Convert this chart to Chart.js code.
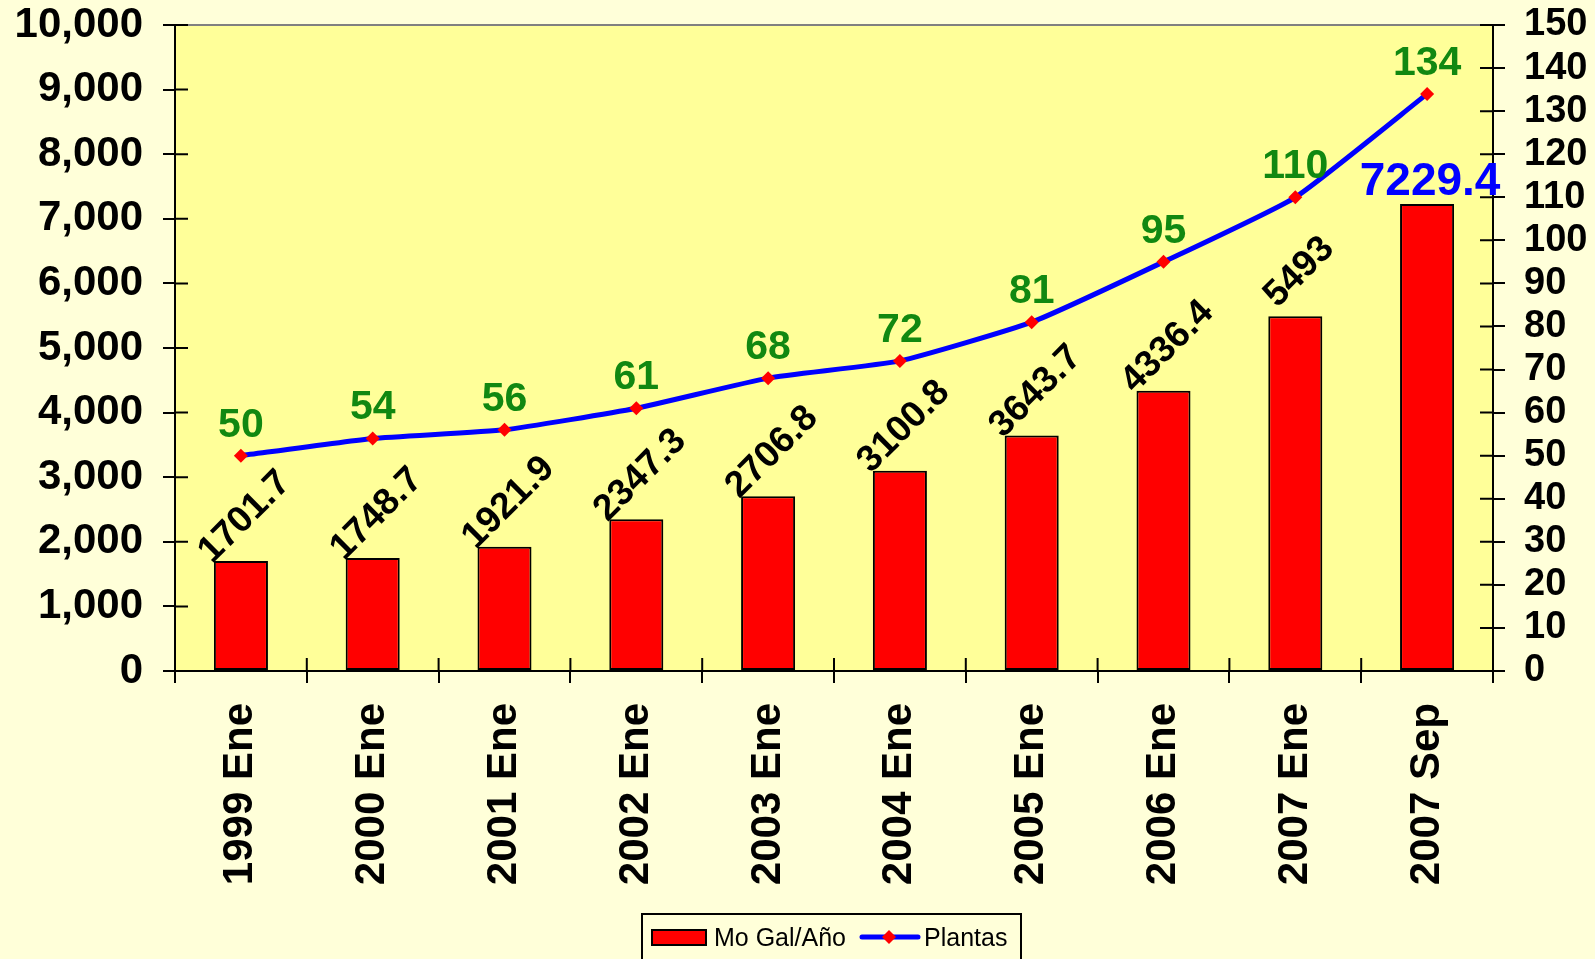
<!DOCTYPE html>
<html>
<head>
<meta charset="utf-8">
<script src="https://cdn.jsdelivr.net/npm/chart.js@4/dist/chart.umd.min.js"></script>
<style>
  html, body { margin: 0; padding: 0; background: #ffffd9; }
  #wrap { width: 1595px; height: 959px; }
</style>
</head>
<body>
<div id="wrap"><canvas id="myChart" width="1595" height="959"></canvas></div>
<script>
'use strict';
// Produccion de etanol y plantas en operacion
const categories = ['1999 Ene', '2000 Ene', '2001 Ene', '2002 Ene', '2003 Ene',
    '2004 Ene', '2005 Ene', '2006 Ene', '2007 Ene', '2007 Sep'];
const galones = [1701.7, 1748.7, 1921.9, 2347.3, 2706.8, 3100.8, 3643.7, 4336.4, 5493, 7229.4];
const plantas = [50, 54, 56, 61, 68, 72, 81, 95, 110, 134];
const galLabels = ['1701.7', '1748.7', '1921.9', '2347.3', '2706.8', '3100.8', '3643.7', '4336.4', '5493', '7229.4'];
const leftTicks = { min: 0, max: 10000, step: 1000 };
const rightTicks = { min: 0, max: 150, step: 10 };

const FONT = "'Liberation Sans', Arial, sans-serif";
Chart.defaults.font.family = FONT;

// fondo del lienzo y del area de trazado
const bgPlugin = {
    id: 'bg',
    beforeDraw(chart) {
        const ctx = chart.ctx, a = chart.chartArea;
        ctx.save();
        ctx.fillStyle = '#ffffd9';
        ctx.fillRect(0, 0, chart.width, chart.height);
        ctx.fillStyle = '#ffff99';
        ctx.fillRect(a.left, a.top, a.right - a.left, a.bottom - a.top);
        ctx.restore();
    },
};

// marcas que cruzan el eje + borde gris superior
const axisPlugin = {
    id: 'axisExtras',
    afterDraw(chart) {
        const ctx = chart.ctx, a = chart.chartArea;
        ctx.save();
        ctx.strokeStyle = '#808080';
        ctx.lineWidth = 2;
        ctx.beginPath();
        ctx.moveTo(a.left, a.top);
        ctx.lineTo(a.right, a.top);
        ctx.stroke();

        ctx.strokeStyle = '#000';
        ctx.beginPath();
        const y = chart.scales.y, y2 = chart.scales.y2, x = chart.scales.x;
        y.ticks.forEach((t, i) => {
            const p = y.getPixelForTick(i);
            ctx.moveTo(a.left, p);
            ctx.lineTo(a.left + 13, p);
        });
        y2.ticks.forEach((t, i) => {
            const p = y2.getPixelForTick(i);
            ctx.moveTo(a.right, p);
            ctx.lineTo(a.right - 13, p);
        });
        const n = categories.length;
        for (let i = 0; i <= n; i++) {
            const p = x.left + (x.right - x.left) * i / n;
            ctx.moveTo(p, a.bottom);
            ctx.lineTo(p, a.bottom - 13);
        }
        ctx.stroke();
        ctx.restore();
    },
};

// etiquetas de valores
const labelPlugin = {
    id: 'valueLabels',
    afterDatasetsDraw(chart) {
        const ctx = chart.ctx;
        const bars = chart.getDatasetMeta(0).data;
        const pts = chart.getDatasetMeta(1).data;
        ctx.save();
        bars.forEach((bar, i) => {
            if (i === bars.length - 1) {
                ctx.fillStyle = '#0000ff';
                ctx.font = 'bold 46px ' + FONT;
                ctx.textAlign = 'center';
                ctx.textBaseline = 'alphabetic';
                ctx.fillText(galLabels[i], bar.x + 3, bar.y - 9);
                return;
            }
            ctx.save();
            ctx.translate(bar.x + 4, bar.y - 44);
            ctx.rotate(-Math.PI / 4);
            ctx.fillStyle = '#000';
            ctx.font = 'bold 37px ' + FONT;
            ctx.textAlign = 'center';
            ctx.textBaseline = 'middle';
            ctx.fillText(galLabels[i], 0, 0);
            ctx.restore();
        });
        ctx.fillStyle = '#118811';
        ctx.font = 'bold 41px ' + FONT;
        ctx.textAlign = 'center';
        ctx.textBaseline = 'alphabetic';
        pts.forEach((pt, i) => {
            ctx.fillText(String(plantas[i]), pt.x, pt.y - 19);
        });
        ctx.restore();
    },
};

// leyenda con recuadro
const legendPlugin = {
    id: 'boxLegend',
    afterDraw(chart) {
        const ctx = chart.ctx;
        const ds = chart.data.datasets;
        ctx.save();
        ctx.fillStyle = '#ffffd9';
        ctx.fillRect(642, 914, 379, 60);
        ctx.strokeStyle = '#000';
        ctx.lineWidth = 2;
        ctx.strokeRect(642, 914, 379, 60);

        ctx.fillStyle = ds[0].backgroundColor;
        ctx.fillRect(652, 930, 54, 15);
        ctx.strokeRect(652, 930, 54, 15);

        ctx.font = '25px ' + FONT;
        ctx.fillStyle = '#000';
        ctx.textBaseline = 'alphabetic';
        ctx.fillText(ds[0].label, 714, 946);

        ctx.strokeStyle = ds[1].borderColor;
        ctx.lineWidth = 5;
        ctx.lineCap = 'round';
        ctx.beginPath();
        ctx.moveTo(862, 937);
        ctx.lineTo(918, 937);
        ctx.stroke();
        ctx.fillStyle = ds[1].pointBackgroundColor;
        ctx.beginPath();
        ctx.moveTo(889, 930);
        ctx.lineTo(896, 937);
        ctx.lineTo(889, 944);
        ctx.lineTo(882, 937);
        ctx.closePath();
        ctx.fill();

        ctx.fillStyle = '#000';
        ctx.fillText(ds[1].label, 924, 946);
        ctx.restore();
    },
};

// sin margen extra de las etiquetas en los ejes verticales
function fixVertical(width) {
    return function (scale) {
        scale.width = width;
        scale.paddingTop = 0;
        scale.paddingBottom = 0;
    };
}

const data = {
    labels: categories,
    datasets: [
        {
            type: 'bar',
            label: 'Mo Gal/Año',
            data: galones,
            yAxisID: 'y',
            backgroundColor: '#ff0000',
            borderColor: '#000',
            borderWidth: 2,
            borderSkipped: false,
            categoryPercentage: 1,
            barPercentage: 0.41,
            order: 1,
        },
        {
            type: 'line',
            label: 'Plantas',
            data: plantas,
            yAxisID: 'y2',
            borderColor: '#0000ff',
            borderWidth: 5,
            pointStyle: 'rectRot',
            pointRadius: 7,
            pointBackgroundColor: '#ff0000',
            pointBorderWidth: 0,
            tension: 0.15,
            order: 0,
        },
    ],
};

const config = {
    data: data,
    options: {
        responsive: false,
        animation: false,
        layout: { padding: { top: 25, left: 0, right: 0, bottom: 0 } },
        plugins: {
            legend: { display: false },
            tooltip: { enabled: false },
        },
        scales: {
            x: {
                grid: {
                    drawOnChartArea: false,
                    tickLength: 12,
                    color: '#000',
                    lineWidth: 2,
                },
                border: { color: '#000', width: 2 },
                ticks: {
                    autoSkip: false,
                    minRotation: 90,
                    maxRotation: 90,
                    padding: 20,
                    color: '#000',
                    font: { size: 42, weight: 'bold' },
                },
                afterFit(scale) {
                    scale.height = 288;
                    scale.paddingLeft = 0;
                    scale.paddingRight = 0;
                },
            },
            y: {
                position: 'left',
                min: leftTicks.min,
                max: leftTicks.max,
                grid: {
                    drawOnChartArea: false,
                    tickLength: 12,
                    color: '#000',
                    lineWidth: 2,
                },
                border: { color: '#000', width: 2 },
                ticks: {
                    stepSize: leftTicks.step,
                    autoSkip: false,
                    padding: 20,
                    color: '#000',
                    font: { size: 42, weight: 'bold' },
                    callback: (v) => v.toLocaleString('en-US'),
                },
                afterFit: fixVertical(175),
            },
            y2: {
                position: 'right',
                min: rightTicks.min,
                max: rightTicks.max,
                grid: {
                    drawOnChartArea: false,
                    tickLength: 12,
                    color: '#000',
                    lineWidth: 2,
                },
                border: { color: '#000', width: 2 },
                ticks: {
                    stepSize: rightTicks.step,
                    autoSkip: false,
                    padding: 19,
                    color: '#000',
                    font: { size: 38, weight: 'bold' },
                },
                afterFit: fixVertical(102),
            },
        },
    },
    plugins: [bgPlugin, axisPlugin, labelPlugin, legendPlugin],
};

const myChart = new Chart(document.getElementById('myChart'), config);
</script>
</body>
</html>
